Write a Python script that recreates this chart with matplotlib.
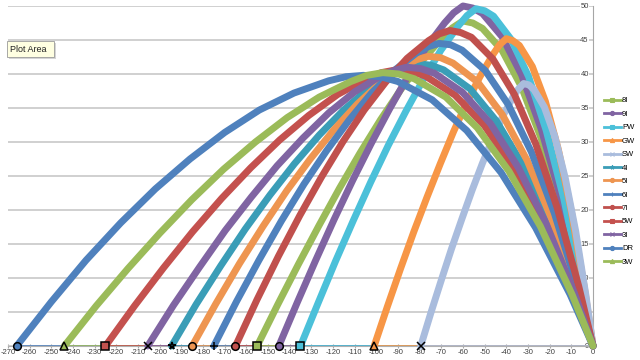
import matplotlib.pyplot as plt
from matplotlib.lines import Line2D
from matplotlib.patches import Rectangle

plt.rcParams['font.family'] = ['Liberation Sans', 'DejaVu Sans']
plt.rcParams['axes.unicode_minus'] = False

# trajectory points (x = distance, y = height)
x_8i = [-155, -145.5, -136, -126.5, -117, -107.5, -98, -88.5, -79, -69.5, -64.8, -60, -55.5, -51, -42, -33, -24, -15, -6, 0]
y_8i = [0, 6.1, 12.0, 17.7, 23.2, 28.4, 33.3, 37.8, 41.9, 45.4, 46.8, 47.8, 47.5, 46.7, 43.5, 38.1, 30.6, 20.9, 9.1, 0]

x_9i = [-145, -136.5, -128, -119.5, -111, -102.5, -94, -85.5, -77, -68.5, -64.3, -60, -55.5, -51, -42, -33, -24, -15, -6, 0]
y_9i = [0, 6.4, 12.6, 18.6, 24.3, 29.7, 34.8, 39.6, 43.9, 47.5, 49.0, 50.0, 49.7, 48.9, 45.5, 39.9, 32.0, 21.9, 9.5, 0]

x_pw = [-135, -126.9, -118.8, -110.7, -102.6, -94.5, -86.4, -78.3, -70.2, -62.1, -58.1, -54, -50, -45.9, -37.8, -29.7, -21.6, -13.5, -5.4, 0]
y_pw = [0, 6.3, 12.5, 18.4, 24.1, 29.5, 34.5, 39.2, 43.5, 47.1, 48.6, 49.6, 49.3, 48.5, 45.1, 39.6, 31.7, 21.7, 9.4, 0]

x_gw = [-101, -94.9, -88.8, -82.7, -76.6, -70.5, -64.4, -58.3, -52.2, -46.1, -43.1, -40, -37, -34, -28, -22, -16, -10, -4, 0]
y_gw = [0, 5.8, 11.4, 16.8, 21.9, 26.8, 31.5, 35.8, 39.6, 42.9, 44.3, 45.2, 44.9, 44.2, 41.1, 36.0, 28.9, 19.8, 8.6, 0]

x_sw = [-79.5, -74.8, -70, -65.3, -60.5, -55.8, -51, -46.3, -41.5, -36.8, -34.4, -32, -29.6, -27.2, -22.4, -17.6, -12.8, -8, -3.2, 0]
y_sw = [0, 4.9, 9.7, 14.3, 18.7, 22.9, 26.9, 30.5, 33.9, 36.7, 37.8, 38.6, 38.4, 37.7, 35.1, 30.8, 24.7, 16.9, 7.3, 0]

x_4i = [-194.5, -183.2, -171.8, -160.5, -149.1, -137.8, -126.4, -115.1, -103.7, -92.4, -86.7, -81, -74.9, -68.9, -56.7, -44.6, -32.4, -20.3, -8.1, 0]
y_4i = [0, 6.1, 11.8, 17.2, 22.2, 26.8, 31.0, 34.7, 37.8, 40.2, 41.0, 41.5, 41.3, 40.6, 37.8, 33.1, 26.6, 18.2, 7.9, 0]

x_5i = [-185, -174.1, -163.2, -152.3, -141.4, -130.5, -119.6, -108.7, -97.8, -86.9, -81.5, -76, -70.3, -64.6, -53.2, -41.8, -30.4, -19, -7.6, 0]
y_5i = [0, 6.2, 12.1, 17.6, 22.8, 27.5, 31.8, 35.6, 38.8, 41.2, 42.1, 42.6, 42.4, 41.6, 38.8, 34.0, 27.3, 18.6, 8.1, 0]

x_6i = [-175, -164.6, -154.2, -143.8, -133.4, -123, -112.6, -102.2, -91.8, -81.4, -76.2, -71, -65.7, -60.4, -49.7, -39.1, -28.4, -17.8, -7.1, 0]
y_6i = [0, 6.5, 12.6, 18.4, 23.8, 28.7, 33.2, 37.2, 40.5, 43.1, 44.0, 44.5, 44.3, 43.5, 40.5, 35.5, 28.5, 19.5, 8.5, 0]

x_7i = [-165, -155.1, -145.2, -135.3, -125.4, -115.5, -105.6, -95.7, -85.8, -75.9, -71, -66, -61.1, -56.1, -46.2, -36.3, -26.4, -16.5, -6.6, 0]
y_7i = [0, 6.8, 13.2, 19.2, 24.8, 30.0, 34.7, 38.8, 42.3, 44.9, 45.9, 46.4, 46.1, 45.4, 42.2, 37.0, 29.7, 20.3, 8.8, 0]

x_5w = [-225, -211.6, -198.2, -184.8, -171.4, -158, -144.6, -131.2, -117.8, -104.4, -97.7, -91, -84.2, -77.4, -63.7, -50.1, -36.4, -22.8, -9.1, 0]
y_5w = [0, 5.9, 11.5, 16.8, 21.7, 26.2, 30.3, 33.9, 37.0, 39.3, 40.2, 40.6, 40.4, 39.7, 36.9, 32.4, 26.0, 17.8, 7.7, 0]

x_3i = [-205.5, -193.6, -181.6, -169.7, -157.7, -145.8, -133.8, -121.9, -109.9, -98, -92, -86, -79.6, -73.1, -60.2, -47.3, -34.4, -21.5, -8.6, 0]
y_3i = [0, 6.0, 11.6, 17.0, 21.9, 26.5, 30.6, 34.3, 37.4, 39.7, 40.5, 41.0, 40.8, 40.1, 37.3, 32.7, 26.2, 17.9, 7.8, 0]

x_dr = [-266, -250, -234, -218, -202, -186, -170, -154, -138, -122, -114, -106, -98, -90.1, -74.2, -58.3, -42.4, -26.5, -10.6, 0]
y_dr = [0, 6.5, 12.6, 18.1, 23.1, 27.5, 31.4, 34.7, 37.2, 39.0, 39.6, 39.8, 39.6, 38.9, 36.2, 31.7, 25.5, 17.4, 7.6, 0]

x_3w = [-244, -229.3, -214.6, -199.9, -185.2, -170.5, -155.8, -141.1, -126.4, -111.7, -104.4, -97, -89.7, -82.5, -67.9, -53.4, -38.8, -24.3, -9.7, 0]
y_3w = [0, 5.9, 11.4, 16.6, 21.5, 26.0, 30.0, 33.6, 36.6, 38.9, 39.8, 40.2, 40.0, 39.3, 36.6, 32.1, 25.7, 17.6, 7.6, 0]

clubs = ['8I', '9I', 'PW', 'GW', 'SW', '4I', '5I', '6I', '7I', '5W', '3I', 'DR', '3W']
xs = [x_8i, x_9i, x_pw, x_gw, x_sw, x_4i, x_5i, x_6i, x_7i, x_5w, x_3i, x_dr, x_3w]
ys = [y_8i, y_9i, y_pw, y_gw, y_sw, y_4i, y_5i, y_6i, y_7i, y_5w, y_3i, y_dr, y_3w]
colors = ['#9BBB59', '#8064A2', '#4BC0D9', '#F79646', '#A9BCDD', '#3A9DB7', '#EE9550',
          '#4F81BD', '#C0504D', '#C4514E', '#8064A2', '#4F81BD', '#9BBB59']
markers = ['s', 'o', 's', '^', 'x', '*', 'o', '+', 'o', 's', 'x', 'o', '^']

fig = plt.figure(figsize=(6.4, 3.6), dpi=100)
ax = fig.add_axes([8 / 640, 14 / 360, 585 / 640, 340 / 360])

# thin baseline pieces, longest club first so shorter ones sit on top
for i in sorted(range(len(clubs)), key=lambda k: xs[k][0]):
    ax.plot([xs[i][0], 0], [0, 0], color=colors[i], lw=1.2, zorder=2, clip_on=False)

for i, club in enumerate(clubs):
    ax.plot(xs[i], ys[i], color=colors[i], lw=5, solid_capstyle='round',
            solid_joinstyle='round', zorder=3 + i * 0.01, clip_on=False)
    ax.plot(xs[i][0], ys[i][0], marker=markers[i], ms=5.5, mfc=colors[i], mec='black',
            mew=1.1, zorder=5, clip_on=False)

ax.set_xlim(-270, 0)
ax.set_ylim(0, 50)
ax.set_xticks(range(-270, 1, 10))
ax.set_yticks(range(0, 51, 5))
ax.yaxis.grid(True, color='#C3C3C3', lw=1.1)
ax.set_axisbelow(True)

for s in ['left', 'top']:
    ax.spines[s].set_visible(False)
ax.spines['right'].set_color('#A6A6A6')
ax.spines['bottom'].set_color('#B0B0B0')

ax.yaxis.tick_right()
ax.tick_params(axis='x', labelsize=5.5, labelcolor='#404040', length=3, direction='inout',
               color='#A6A6A6', pad=1)
ax.tick_params(axis='y', labelsize=5.5, labelcolor='#404040', length=0, pad=-3)
for lab in ax.get_yticklabels():
    lab.set_ha('right')
    lab.set_bbox(dict(facecolor='white', edgecolor='none', pad=0.4))

handles = [Line2D([], [], color=colors[i], lw=2, marker=markers[i], ms=3, mew=0.8)
           for i in range(len(clubs))]
fig.legend(handles, clubs, loc='upper left', bbox_to_anchor=(604 / 640, 1 - 97 / 360),
           frameon=False, fontsize=5.5, handlelength=2.2, handletextpad=0.15,
           labelspacing=0.8, borderaxespad=0, borderpad=0)

# "Plot Area" tooltip with a soft shadow
fig.patches.append(Rectangle((9 / 640, 1 - 59 / 360), 47 / 640, 16 / 360, transform=fig.transFigure,
                             fc='#888888', ec='none', alpha=0.35, zorder=8))
fig.patches.append(Rectangle((7 / 640, 1 - 57 / 360), 47 / 640, 16 / 360, transform=fig.transFigure,
                             fc='#FFFFE1', ec='#9A9A9A', lw=0.6, zorder=9))
fig.text(10 / 640, 1 - 49 / 360, 'Plot Area', fontsize=6.5, va='center', ha='left',
         color='#222222', zorder=10)

fig.savefig('out.png', dpi=100)
